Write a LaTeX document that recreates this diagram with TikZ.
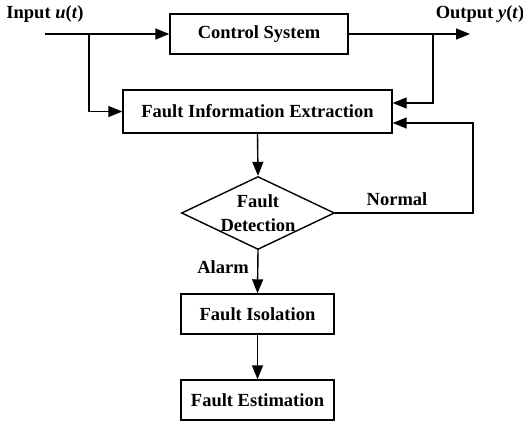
\documentclass[tikz,border=0pt]{standalone}
\usepackage{fontspec}
\setmainfont{Liberation Serif}
\usepackage{tikz}
\usetikzlibrary{arrows.meta}
\usetikzlibrary{shapes.geometric}

\begin{document}
\begin{tikzpicture}[x=1pt, y=-1pt,
	font=\bfseries\fontsize{18.5}{20}\selectfont,
	box/.style={draw, line width=1.4pt, inner sep=0pt, align=center},
	arr/.style={-{Triangle[length=14pt, width=11pt]}, line width=1.4pt}]
	\useasboundingbox (0,0) rectangle (523,424);
	
	\node [box, minimum width=178pt, minimum height=40pt] (sys) at (259,34) {Control System};
	\node [box, minimum width=269pt, minimum height=43pt] (fie) at (257.5,111.5) {Fault Information Extraction};
	\node [box, diamond, aspect=2.1, minimum width=153pt, minimum height=73pt, inner sep=-3pt,
		font=\bfseries\fontsize{18.5}{24}\selectfont] (det) at (258,213) {Fault\\Detection};
	\node [box, minimum width=153pt, minimum height=40pt] (iso) at (257.5,314) {Fault Isolation};
	\node [box, minimum width=153pt, minimum height=40pt] (est) at (257.5,400) {Fault Estimation};
	
	\node (inlabel) at (45,14) {Input \textit{u}(\textit{t})};
	\node (outlabel) at (480,14) {Output \textit{y}(\textit{t})};
	\node (normal) at (397,199) {Normal};
	\node (alarm) at (223,267) {Alarm};
	
	\coordinate (in) at (45,34);
	\coordinate (out) at (470,34);
	\coordinate (br1) at (89,34);
	\coordinate (br2) at (433,34);
	\coordinate (fb) at (473,213);
	
	\draw [arr] (in) -- (sys.west);
	\draw [arr] (sys.east) -- (out);
	\draw [arr] (br1) |- (fie.west);
	\draw [arr] (br2) |- ([yshift=8.5pt]fie.east);
	\draw [arr] (det.east) -- (fb) |- ([yshift=-11.5pt]fie.east);
	
	\draw [arr] (fie.south) -- (det.north);
	\draw [arr] (det.south) -- (iso.north);
	\draw [arr] (iso.south) -- (est.north);
\end{tikzpicture}
\end{document}
